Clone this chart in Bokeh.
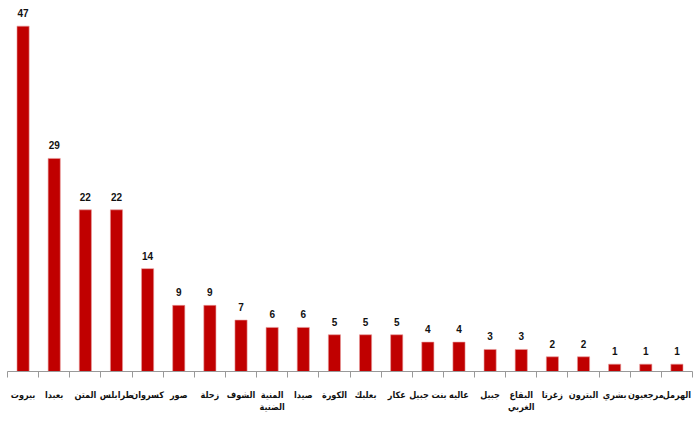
from bokeh.plotting import figure
from bokeh.models import FixedTicker, ColumnDataSource, Range1d
from bokeh.core.properties import value
from bokeh.embed import file_html
from bokeh.resources import INLINE

districts = ["بيروت", "بعبدا", "المتن", "طرابلس", "كسروان", "صور", "زحلة", "الشوف",
             "المنية\nالضنية", "صيدا", "الكورة", "بعلبك", "عكار", "بنت جبيل", "عاليه",
             "جبيل", "البقاع\nالغربي", "زغرتا", "البترون", "بشري", "مرجعيون", "الهرمل"]
counts = [47, 29, 22, 22, 14, 9, 9, 7, 6, 6, 5, 5, 5, 4, 4, 3, 3, 2, 2, 1, 1, 1]

n = len(districts)
xs = [i + 0.5 for i in range(n)]
src = ColumnDataSource(dict(x=xs, top=counts, lbl=[str(c) for c in counts]))

p = figure(width=697, height=428, output_backend="svg", toolbar_location=None,
           x_range=Range1d(0, n), y_range=Range1d(0, 49.4),
           min_border_left=7, min_border_right=5, min_border_top=8, min_border_bottom=57)
p.outline_line_color = None
p.xgrid.visible = False
p.ygrid.visible = False
p.yaxis.visible = False
p.background_fill_color = "white"
p.border_fill_color = "white"

p.vbar(x="x", top="top", width=0.39, bottom=0, source=src,
       fill_color="#C00000", line_color="#E89A9A", line_width=0.6)
p.text(x="x", y="top", text="lbl", source=src, text_align="center", text_baseline="bottom",
       y_offset=-9, text_font=value("Liberation Sans"), text_font_style="bold",
       text_font_size="10px", text_color="#111111")

ax = p.xaxis[0]
ax.ticker = FixedTicker(ticks=xs, minor_ticks=list(range(n + 1)))
ax.major_label_overrides = {x: d for x, d in zip(xs, districts)}
ax.major_tick_line_color = None
ax.minor_tick_line_color = "#999999"
ax.minor_tick_out = 6
ax.minor_tick_in = 0
ax.axis_line_color = "#999999"
ax.axis_line_width = 1
ax.major_label_standoff = 12
ax.major_label_text_font = "DejaVu Sans Condensed"
ax.major_label_text_font_style = "bold"
ax.major_label_text_font_size = "9px"
ax.major_label_text_color = "#111111"

open("out.html", "w").write(file_html(p, INLINE))
